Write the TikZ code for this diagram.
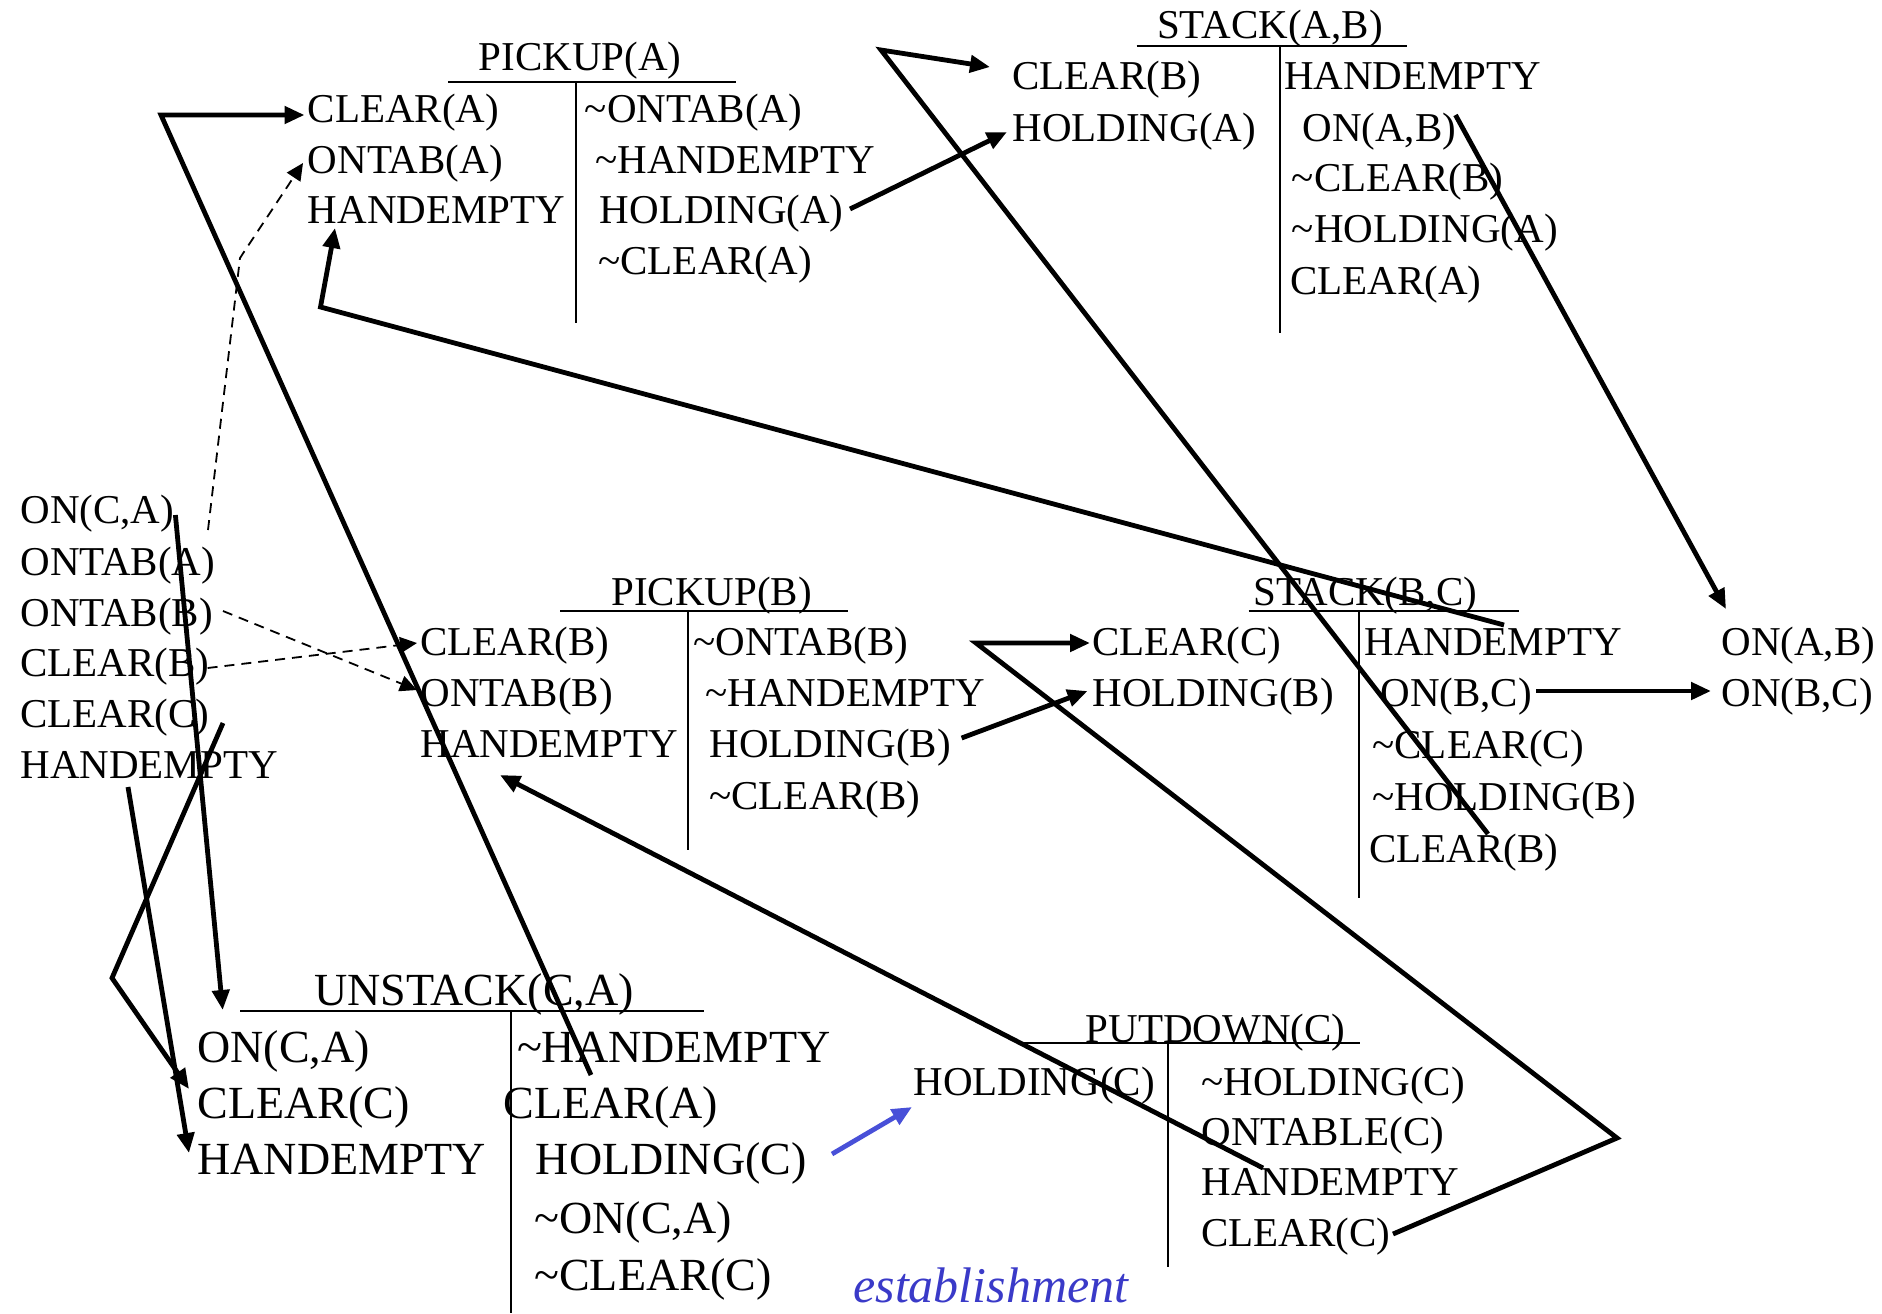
\documentclass[tikz,border=0pt]{standalone}
\usepackage{fontspec}
\setmainfont{Liberation Serif}
\usetikzlibrary{arrows.meta,calc}
\newcommand\tld{\textasciitilde}
\definecolor{estblue}{RGB}{58,58,200}
\definecolor{linkblue}{RGB}{72,80,216}
\begin{document}
\begin{tikzpicture}[x=0.5pt,y=-0.5pt,
  lit/.style={anchor=base west,inner sep=0pt,font=\fontsize{20.5}{24}\selectfont},
  biglit/.style={lit,font=\fontsize{23}{27}\selectfont},
  ttl/.style={anchor=base,inner sep=0pt,font=\fontsize{20.5}{24}\selectfont},
  bigttl/.style={ttl,font=\fontsize{23}{27}\selectfont},
  rule/.style={line width=1pt},
  link/.style={line width=2.4pt,-{Triangle[length=10pt,width=8.5pt]}},
  dlink/.style={line width=0.9pt,dash pattern=on 5pt off 3.5pt,-{Triangle[length=8.5pt,width=8pt]}},
  bluelink/.style={line width=2.4pt,color=linkblue,-{Triangle[length=10pt,width=8.5pt]}},
  thread/.style={line width=2.4pt}]
\useasboundingbox (0,0) rectangle (1882,1313);

% ---------- PICKUP(A) ----------
\node[ttl] (pa) at (580,70) {PICKUP(A)};
\draw[rule] (448,82) -- (736,82);
\draw[rule] (575.5,82) -- (575.5,323);
\node[lit] (pa-pre1) at (307.5,122) {CLEAR(A)};
\node[lit] (pa-pre2) at (307.5,173) {ONTAB(A)};
\node[lit] (pa-pre3) at (307.5,223) {HANDEMPTY};
\node[lit] (pa-eff1) at (584.5,122) {\tld ONTAB(A)};
\node[lit] (pa-eff2) at (595,173) {\tld HANDEMPTY};
\node[lit] (pa-eff3) at (599.5,223) {HOLDING(A)};
\node[lit] (pa-eff4) at (598,274) {\tld CLEAR(A)};

% ---------- STACK(A,B) ----------
\node[ttl] (sa) at (1270,38) {STACK(A,B)};
\draw[rule] (1136.5,45.7) -- (1407,45.7);
\draw[rule] (1280,46) -- (1280,333);
\node[lit] (sa-pre1) at (1012,89) {CLEAR(B)};
\node[lit] (sa-pre2) at (1012,141) {HOLDING(A)};
\node[lit] (sa-eff1) at (1283.6,89) {HANDEMPTY};
\node[lit] (sa-eff2) at (1302,141) {ON(A,B)};
\node[lit] (sa-eff3) at (1291.5,191) {\tld CLEAR(B)};
\node[lit] (sa-eff4) at (1291.5,242) {\tld HOLDING(A)};
\node[lit] (sa-eff5) at (1289.7,294) {CLEAR(A)};

% ---------- initial state ----------
\node[lit] (in1) at (20,523) {ON(C,A)};
\node[lit] (in2) at (20,575) {ONTAB(A)};
\node[lit] (in3) at (20,626) {ONTAB(B)};
\node[lit] (in4) at (20,676) {CLEAR(B)};
\node[lit] (in5) at (20,727) {CLEAR(C)};
\node[lit] (in6) at (20,778) {HANDEMPTY};

% ---------- PICKUP(B) ----------
\node[ttl] (pb) at (711.5,605) {PICKUP(B)};
\draw[rule] (560,610.7) -- (848,610.7);
\draw[rule] (687.5,611) -- (687.5,850);
\node[lit] (pb-pre1) at (420,655) {CLEAR(B)};
\node[lit] (pb-pre2) at (420,706) {ONTAB(B)};
\node[lit] (pb-pre3) at (420,757) {HANDEMPTY};
\node[lit] (pb-eff1) at (693,655) {\tld ONTAB(B)};
\node[lit] (pb-eff2) at (705,706) {\tld HANDEMPTY};
\node[lit] (pb-eff3) at (709,757) {HOLDING(B)};
\node[lit] (pb-eff4) at (709,809) {\tld CLEAR(B)};

% ---------- STACK(B,C) ----------
\node[ttl] (sb) at (1365.5,605) {STACK(B,C)};
\draw[rule] (1248.6,610.7) -- (1519,610.7);
\draw[rule] (1359,611) -- (1359,898);
\node[lit] (sb-pre1) at (1092,655) {CLEAR(C)};
\node[lit] (sb-pre2) at (1092,706) {HOLDING(B)};
\node[lit] (sb-eff1) at (1364,655) {HANDEMPTY};
\node[lit] (sb-eff2) at (1380,706) {ON(B,C)};
\node[lit] (sb-eff3) at (1372,758) {\tld CLEAR(C)};
\node[lit] (sb-eff4) at (1372,810) {\tld HOLDING(B)};
\node[lit] (sb-eff5) at (1369,862) {CLEAR(B)};

% ---------- goal ----------
\node[lit] (g1) at (1721,655) {ON(A,B)};
\node[lit] (g2) at (1721,706) {ON(B,C)};

% ---------- UNSTACK(C,A) ----------
\node[bigttl] (us) at (474,1005) {UNSTACK(C,A)};
\draw[rule] (240,1010.7) -- (704,1010.7);
\draw[rule] (511,1011) -- (511,1313);
\node[biglit] (us-pre1) at (197,1062) {ON(C,A)};
\node[biglit] (us-pre2) at (197,1118) {CLEAR(C)};
\node[biglit] (us-pre3) at (197,1174) {HANDEMPTY};
\node[biglit] (us-eff1) at (516.6,1062) {\tld HANDEMPTY};
\node[biglit] (us-eff2) at (503,1118) {CLEAR(A)};
\node[biglit] (us-eff3) at (535.5,1174) {HOLDING(C)};
\node[biglit] (us-eff4) at (534,1233) {\tld ON(C,A)};
\node[biglit] (us-eff5) at (534,1290) {\tld CLEAR(C)};

% ---------- PUTDOWN(C) ----------
\node[ttl] (pd) at (1215.6,1042) {PUTDOWN(C)};
\draw[rule] (1024,1042.7) -- (1360,1042.7);
\draw[rule] (1168,1043) -- (1168,1267);
\node[lit] (pd-pre1) at (913,1095) {HOLDING(C)};
\node[lit] (pd-eff1) at (1201,1095) {\tld HOLDING(C)};
\node[lit] (pd-eff2) at (1201,1145) {ONTABLE(C)};
\node[lit] (pd-eff3) at (1201,1195) {HANDEMPTY};
\node[lit] (pd-eff4) at (1201,1246) {CLEAR(C)};

\node[anchor=base west,inner sep=0pt,text=estblue,
      font=\fontsize{25}{28}\selectfont\itshape] (est) at (853,1302) {establishment};

% ---------- bend points of the causal links ----------
\coordinate (b1) at (161,115);
\coordinate (b2) at (240,258);
\coordinate (b3) at (112,978);
\coordinate (b4) at (320.5,307);
\coordinate (b5) at (881,50);
\coordinate (b6) at (1617,1138);
\coordinate (b7) at (976,643);

% ---------- causal links ----------
\draw[link] ($(us-eff2.base west)+(88,-43)$) -- (b1) -- ($(pa-pre1.base west)+(-3,-7)$);
\draw[dlink] ($(in2.base west)+(188,-45)$) -- (b2) -- ($(pa-pre2.base west)+(-4.5,-10)$);
\draw[dlink] ($(in3.base west)+(203,-15)$) -- ($(pb-pre2.base west)+(-3,-16)$);
\draw[dlink] ($(in4.base west)+(187.6,-8)$) -- ($(pb-pre1.base west)+(-3,-12)$);
\draw[link] ($(in1.base west)+(155.4,-8)$) -- ($(us-pre1.base west)+(25.7,-52)$);
\draw[link] ($(in5.base west)+(203,-4)$) -- (b3) -- ($(us-pre2.base west)+(-8,-29)$);
\draw[link] ($(in6.base west)+(108,9)$) -- ($(us-pre3.base west)+(-8,-21)$);
\draw[link] ($(sb-eff1.base west)+(140,-30)$) -- (b4) -- ($(pa-pre3.base west)+(27.5,5)$);
\draw[link] ($(pa-eff3.base west)+(250.5,-14)$) -- ($(sa-pre2.base west)+(-5,-9)$);
\draw[link] ($(sb-eff5.base west)+(119,-28)$) -- (b5) -- ($(sa-pre1.base west)+(-22,-22)$);
\draw[link] ($(sa-eff2.base west)+(153.5,-26)$) -- ($(g1.base west)+(5,-46)$);
\draw[link] ($(sb-eff2.base west)+(156,-15)$) -- ($(g2.base west)+(-10,-15)$);
\draw[link] ($(pb-eff3.base west)+(252.6,-19)$) -- ($(sb-pre2.base west)+(-4.5,-15)$);
\draw[link] ($(pd-eff4.base west)+(192,-12)$) -- (b6) -- (b7) -- ($(sb-pre1.base west)+(-2,-12)$);
\draw[link] ($(pd-eff3.base west)+(62,-27)$) -- ($(pb-pre3.base west)+(80,18)$);
\draw[bluelink] ($(us-eff3.base west)+(296.5,-20)$) -- ($(pd-pre1.base west)+(-1,12)$);
\end{tikzpicture}
\end{document}
